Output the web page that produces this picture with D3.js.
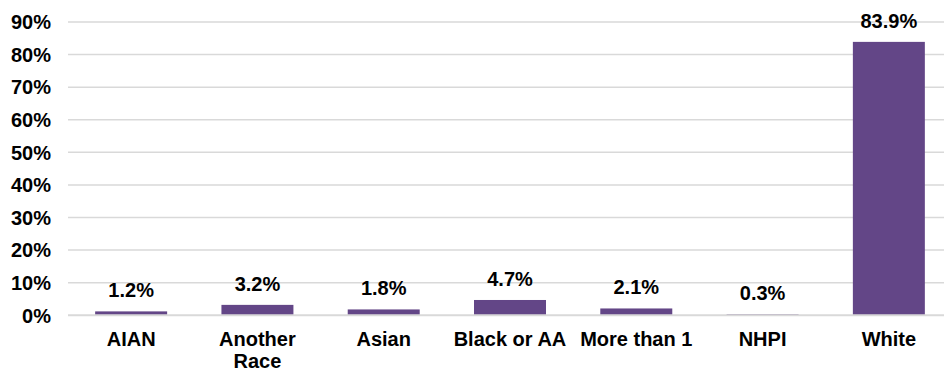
<!DOCTYPE html>
<html><head><meta charset="utf-8">
<script src="https://cdn.jsdelivr.net/npm/d3@7"></script>
<style>
body{margin:0;background:#fff;}
text{font-family:"Liberation Sans",Arial,sans-serif;font-weight:bold;fill:#000;}
</style></head>
<body><svg id="c" width="944" height="373"></svg>
<script>
const categories = ["AIAN", "Another Race", "Asian", "Black or AA", "More than 1", "NHPI", "White"];
const categoryLines = [["AIAN"], ["Another", "Race"], ["Asian"], ["Black or AA"], ["More than 1"], ["NHPI"], ["White"]];
const values = [1.2, 3.2, 1.8, 4.7, 2.1, 0.3, 83.9];
const valueLabels = ["1.2%", "3.2%", "1.8%", "4.7%", "2.1%", "0.3%", "83.9%"];
const yTicks = [0, 10, 20, 30, 40, 50, 60, 70, 80, 90];

const svg = d3.select("#c");
const x = d3.scaleBand().domain(categories).range([68, 952]).paddingInner(0.43).paddingOuter(0.215);
const y = d3.scaleLinear().domain([0, 90]).range([315.3, 22]);

// gridlines (except baseline)
svg.append("g").selectAll("line").data(yTicks.filter(d => d !== 0)).join("line")
  .attr("x1", 68).attr("x2", 944)
  .attr("y1", d => y(d)).attr("y2", d => y(d))
  .attr("stroke", "#d9d9d9").attr("stroke-width", 1.5);

// y labels
svg.append("g").selectAll("text").data(yTicks).join("text")
  .attr("x", 51).attr("y", d => y(d)).attr("dy", "0.36em")
  .attr("text-anchor", "end").attr("font-size", 20)
  .text(d => d + "%");

// bars
svg.append("g").selectAll("rect").data(values).join("rect")
  .attr("x", (d, i) => x(categories[i]))
  .attr("width", x.bandwidth())
  .attr("y", d => y(d))
  .attr("height", d => y(0) - y(d))
  .attr("fill", "#634687");

// baseline on top
svg.append("line")
  .attr("x1", 68).attr("x2", 944)
  .attr("y1", y(0)).attr("y2", y(0))
  .attr("stroke", "#d9d9d9").attr("stroke-width", 2);

// value labels
svg.append("g").selectAll("text").data(values).join("text")
  .attr("x", (d, i) => x(categories[i]) + x.bandwidth() / 2)
  .attr("y", d => y(d) - 14)
  .attr("text-anchor", "middle").attr("font-size", 20)
  .text((d, i) => valueLabels[i]);

// category labels
const cg = svg.append("g").selectAll("text").data(categories).join("text")
  .attr("x", d => x(d) + x.bandwidth() / 2)
  .attr("y", 345.5)
  .attr("text-anchor", "middle").attr("font-size", 20);
cg.selectAll("tspan").data((d, i) => categoryLines[i].map(t => ({t, cx: x(d) + x.bandwidth() / 2})))
  .join("tspan")
  .attr("x", d => d.cx)
  .attr("dy", (d, j) => j === 0 ? 0 : 22.5)
  .text(d => d.t);
</script></body></html>
